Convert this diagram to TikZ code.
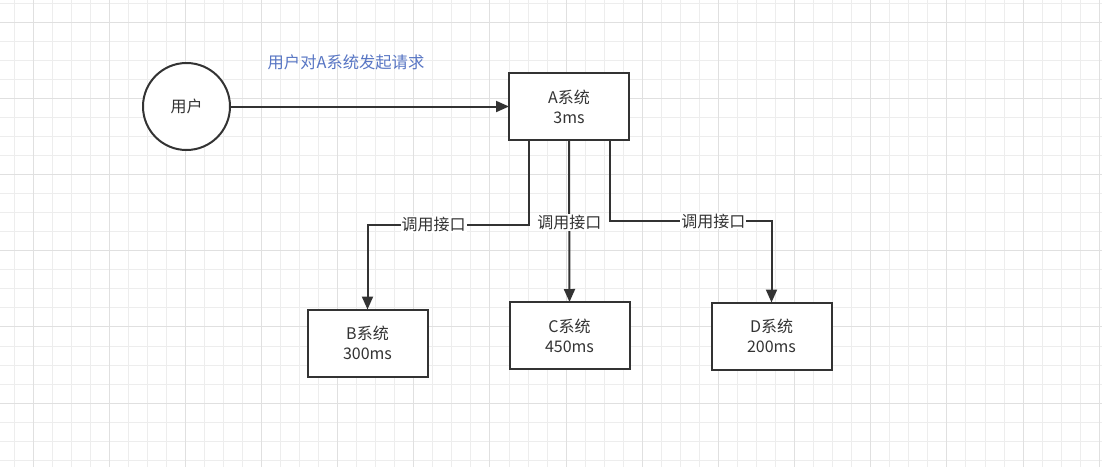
\documentclass[tikz,border=0pt]{standalone}
\usepackage{fontspec}
\newfontfamily\cjk{Noto Sans CJK SC}
\usetikzlibrary{arrows.meta}
\definecolor{ink}{HTML}{333333}
\definecolor{gridminor}{HTML}{EDEDED}
\definecolor{gridmajor}{HTML}{E0E0E0}
\definecolor{labelblue}{RGB}{88,118,196}
\tikzset{
  txt/.style={font=\cjk\fontsize{16}{20}\selectfont, text=ink},
  sysbox/.style={txt, draw=ink, line width=2pt, fill=white, minimum width=120pt,
    minimum height=67pt, inner sep=0pt, outer sep=0pt, align=center},
  usercircle/.style={txt, draw=ink, line width=2pt, fill=white, circle,
    minimum size=87pt, inner sep=0pt, outer sep=0pt},
  conn/.style={draw=ink, line width=2pt, -{Triangle[length=13pt,width=11pt]}},
  lbl/.style={txt, fill=white, inner sep=1pt},
  gridline/.style={draw=gridminor, line width=1.2pt},
  gridbold/.style={draw=gridmajor, line width=1.2pt}
}
\begin{document}
\begin{tikzpicture}[x=1pt,y=-1pt]
\useasboundingbox (0,0) rectangle (1102,467);
\fill[white] (0,0) rectangle (1102,467);
% grid
\foreach \k in {0,...,57} {
  \pgfmathsetmacro\gx{floor(14+19.04*\k)+0.5}
  \draw[gridline] (\gx,0) -- (\gx,467);
}
\foreach \k in {0,...,24} {
  \pgfmathsetmacro\gy{floor(3.3+19.04*\k)+0.5}
  \draw[gridline] (0,\gy) -- (1102,\gy);
}
\foreach \k in {1,5,...,57} {
  \pgfmathsetmacro\gx{floor(14+19.04*\k)+0.5}
  \draw[gridbold] (\gx,0) -- (\gx,467);
}
\foreach \k in {1,5,...,24} {
  \pgfmathsetmacro\gy{floor(3.3+19.04*\k)+0.5}
  \draw[gridbold] (0,\gy) -- (1102,\gy);
}
% nodes
\node[usercircle] (U) at (186.5,106.5) {用户};
\node[sysbox] (A) at (569,106.5) {A系统\\3ms};
\node[sysbox] (B) at (367.5,343) {B系统\\300ms};
\node[sysbox] (C) at (569.5,335.5) {C系统\\450ms};
\node[sysbox] (D) at (771.5,336) {D系统\\200ms};
\node[font=\cjk\fontsize{16.3}{20}\selectfont, text=labelblue] (T) at (346,62) {用户对A系统发起请求};
% connectors
\draw[conn] (U) -- (A);
\draw[conn] ([xshift=-40pt]A.south) -- ++(0,84.5) -| node[lbl,pos=0.295] {调用接口} (B.north);
\draw[conn] (A.south) -- node[lbl,pos=0.51] {调用接口} (C.north);
\draw[conn] ([xshift=41pt]A.south) -- ++(0,81) -| node[lbl,pos=0.32] {调用接口} (D.north);
\end{tikzpicture}
\end{document}
